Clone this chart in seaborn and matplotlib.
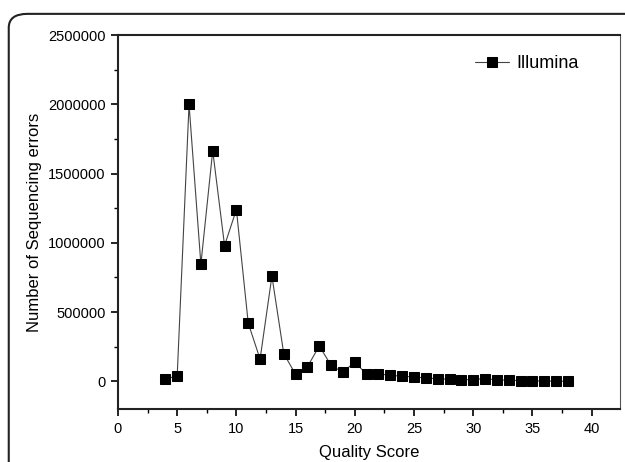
import pandas as pd
import matplotlib.pyplot as plt
import seaborn as sns
from matplotlib.patches import FancyBboxPatch
from matplotlib.ticker import MultipleLocator, FuncFormatter

# values
quality_score = list(range(4, 39))
seq_errors = [15000, 40000, 2000000, 845000, 1665000, 980000, 1240000, 420000,
              160000, 760000, 200000, 50000, 105000, 255000, 115000, 65000,
              140000, 50000, 55000, 42000, 38000, 30000, 25000, 18000, 15000,
              12000, 12000, 20000, 10000, 8000, 5000, 3000, 2000, 1000, 0]
series_name = 'Illumina'

df = pd.DataFrame({'Quality Score': quality_score,
                   'Number of Sequencing errors': seq_errors,
                   'platform': series_name})

sns.set_theme(style="ticks")
plt.rcParams['font.family'] = ['Liberation Sans', 'DejaVu Sans']
plt.rcParams['text.color'] = 'black'
plt.rcParams['axes.labelcolor'] = 'black'

fig = plt.figure(figsize=(6.25, 4.62), dpi=100)
ax = fig.add_axes([0.1888, 0.1147, 0.8032, 0.8095])

# rounded frame around the figure
frame = FancyBboxPatch((0.014, -0.1), 1.2, 1.07, boxstyle="round,pad=0,rounding_size=0.03",
                       transform=fig.transFigure, fill=False, edgecolor='#222222',
                       linewidth=1.5, clip_on=False)
fig.patches.append(frame)

sns.lineplot(data=df, x='Quality Score', y='Number of Sequencing errors', hue='platform',
             palette=['black'], marker='s', markersize=6.8, markeredgecolor='black',
             linewidth=0.8, ax=ax)
for line in ax.get_lines():
    line.set_color('#444444')
    line.set_markerfacecolor('black')
    line.set_markeredgecolor('black')

ax.set_xlim(0, 42.4)
ax.set_ylim(-200000, 2500000)
ax.xaxis.set_major_locator(MultipleLocator(5))
ax.xaxis.set_minor_locator(MultipleLocator(2.5))
ax.yaxis.set_major_locator(MultipleLocator(500000))
ax.yaxis.set_minor_locator(MultipleLocator(250000))
ax.yaxis.set_major_formatter(FuncFormatter(lambda v, p: f"{int(round(v))}"))
ax.tick_params(which='major', direction='out', length=5, width=1.2, labelsize=10.5,
               colors='black', pad=4)
ax.tick_params(which='minor', direction='out', length=3, width=1.0, colors='black')
ax.tick_params(top=False, right=False)
for side in ['left', 'bottom', 'top']:
    ax.spines[side].set_linewidth(1.5)
    ax.spines[side].set_color('#222222')
ax.spines['right'].set_linewidth(0.8)
ax.spines['right'].set_color('#555555')

ax.set_xlabel('Quality Score', fontsize=12, labelpad=7)
ax.set_ylabel('Number of Sequencing errors', fontsize=12, labelpad=4)

handles, labels = ax.get_legend_handles_labels()
ax.legend(handles, [series_name], loc='upper right', frameon=False, fontsize=13,
          handlelength=1.9, handletextpad=0.4, bbox_to_anchor=(0.95, 0.99))

fig.savefig('out.png', dpi=100)
